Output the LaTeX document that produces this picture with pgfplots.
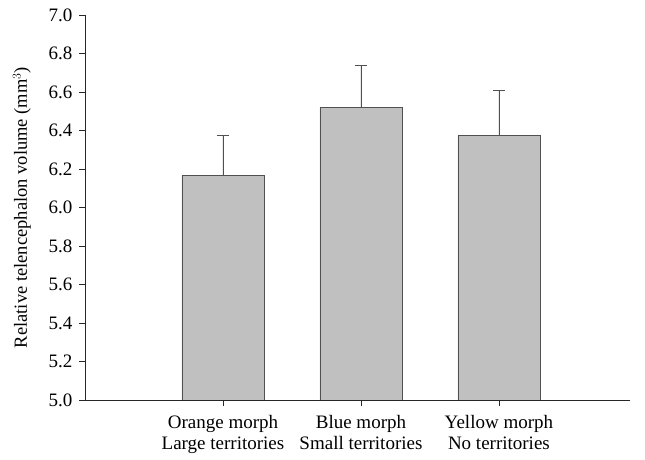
\documentclass[border=0pt]{standalone}
\usepackage{pgfplots}
\pgfplotsset{compat=1.18}
\usepackage{fontspec}
\setmainfont{Liberation Serif}
\definecolor{barfill}{HTML}{C0C0C0}
\definecolor{bardraw}{HTML}{505050}
\begin{document}
\begin{tikzpicture}
\begin{axis}[
  scale only axis,
  width=545pt, height=385pt,
  xmin=-1, xmax=2.95,
  ymin=5, ymax=7,
  ytick={5.0,5.2,5.4,5.6,5.8,6.0,6.2,6.4,6.6,6.8,7.0},
  yticklabel style={/pgf/number format/fixed,/pgf/number format/fixed zerofill,/pgf/number format/precision=1, xshift=-3pt},
  /pgf/number format/assume math mode=true,
  tick label style={font=\fontsize{19}{21}\selectfont},
  xtick={0,1,2},
  xticklabels={{Orange morph\\Large territories},{Blue morph\\Small territories},{Yellow morph\\No territories}},
  xticklabel style={align=center, text depth=0pt, yshift=-6pt},
  axis x line*=bottom,
  axis y line*=left,
  tick align=outside,
  major tick length=6pt,
  axis line style={line width=0.8pt, black!85},
  tick style={line width=0.8pt, black!85},
  ylabel={Relative telencephalon volume (mm$^3$)},
  ylabel style={font=\fontsize{18.5}{21}\selectfont},
  ylabel shift=11pt,
]
\addplot[ybar, bar width=82pt, fill=barfill, draw=bardraw, line width=0.8pt,
  error bars/.cd, y dir=plus, y explicit,
  error bar style={line width=0.8pt, bardraw},
  error mark options={rotate=90, mark size=6pt, line width=0.8pt, bardraw}]
  coordinates {
  (0,6.168) +- (0,0.207)
  (1,6.52) +- (0,0.218)
  (2,6.372) +- (0,0.238)
  };
\end{axis}
\pgfresetboundingbox
\path (current axis.south west) ++(-85pt,-60pt) rectangle ([xshift=15pt,yshift=15pt]current axis.north east);
\end{tikzpicture}
\end{document}
